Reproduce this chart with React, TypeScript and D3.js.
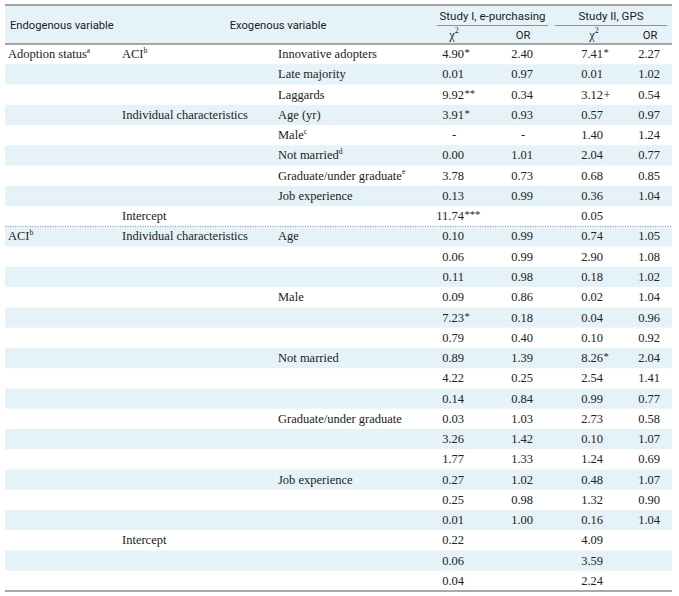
import React from "react";
import * as d3 from "d3";

const endoLabels: [number, string, string][] = [
  [0, "Adoption status", "a"],
  [9, "ACI", "b"],
];
const groupLabels: [number, string, string][] = [
  [0, "ACI", "b"],
  [3, "Individual characteristics", ""],
  [8, "Intercept", ""],
  [9, "Individual characteristics", ""],
  [24, "Intercept", ""],
];
const varLabels: [number, string, string][] = [
  [0, "Innovative adopters", ""],
  [1, "Late majority", ""],
  [2, "Laggards", ""],
  [3, "Age (yr)", ""],
  [4, "Male", "c"],
  [5, "Not married", "d"],
  [6, "Graduate/under graduate", "e"],
  [7, "Job experience", ""],
  [9, "Age", ""],
  [12, "Male", ""],
  [15, "Not married", ""],
  [18, "Graduate/under graduate", ""],
  [21, "Job experience", ""],
];
const chi1 = ["4.90*","0.01","9.92**","3.91*","-","0.00","3.78","0.13","11.74***","0.10","0.06","0.11","0.09","7.23*","0.79","0.89","4.22","0.14","0.03","3.26","1.77","0.27","0.25","0.01","0.22","0.06","0.04"];
const or1 = ["2.40","0.97","0.34","0.93","-","1.01","0.73","0.99","","0.99","0.99","0.98","0.86","0.18","0.40","1.39","0.25","0.84","1.03","1.42","1.33","1.02","0.98","1.00","","",""];
const chi2 = ["7.41*","0.01","3.12+","0.57","1.40","2.04","0.68","0.36","0.05","0.74","2.90","0.18","0.02","0.04","0.10","8.26*","2.54","0.99","2.73","0.10","1.24","0.48","1.32","0.16","4.09","3.59","2.24"];
const or2 = ["2.27","1.02","0.54","0.97","1.24","0.77","0.85","1.04","","1.05","1.08","1.02","1.04","0.96","0.92","2.04","1.41","0.77","0.58","1.07","0.69","1.07","0.90","1.04","","",""];
const studies = ["Study I, e-purchasing", "Study II, GPS"];
const statCols = ["χ", "OR", "χ", "OR"];

const W = 679, H = 596;
const L = 5, R = 672;
const SERIF = "'Liberation Serif', 'DejaVu Serif', serif";
const SANS = "Roboto, 'Noto Sans', sans-serif";
const BLUE = "#e5f3f8";
const TXT = "#222";

export default function App() {
  const nRows = chi1.length;
  const y = d3.scaleBand<number>().domain(d3.range(nRows)).range([44, 591]);
  const colX = d3.scaleOrdinal<string, number>().domain(["endo", "group", "var"]).range([8, 122, 278]);
  const numRight = d3.scaleOrdinal<number, number>().domain([0, 1, 2, 3]).range([464, 533, 603, 660]);
  const numCenter = d3.scaleOrdinal<number, number>().domain([0, 1, 2, 3]).range([454, 523, 594, 650]);
  const studySpan = [[437, 548], [555, 667]];
  const cols = [chi1, or1, chi2, or2];
  const fs = 12.5;

  const renderVal = (v: string, ci: number, ri: number) => {
    if (!v) return null;
    const cy = (y(ri) as number) + y.bandwidth() / 2;
    if (v === "-") {
      return <text key={`${ci}-${ri}`} x={numCenter(ci)} y={cy} textAnchor="middle" dominantBaseline="central" fontFamily={SERIF} fontSize={fs} fill={TXT}>-</text>;
    }
    const m = v.match(/^([0-9.]+)(.*)$/)!;
    return (
      <g key={`${ci}-${ri}`}>
        <text x={numRight(ci)} y={cy} textAnchor="end" dominantBaseline="central" fontFamily={SERIF} fontSize={fs} fill={TXT}>{m[1]}</text>
        {m[2] && <text x={numRight(ci) + 0.5} y={cy} textAnchor="start" dominantBaseline="central" fontFamily={SERIF} fontSize={m[2] === "+" ? fs : 10.5} fill={TXT} dy={m[2] === "+" ? 0 : -1.5}>{m[2]}</text>}
      </g>
    );
  };

  const label = (key: string, x: number, ri: number, t: string, sup: string) => {
    const cy = (y(ri) as number) + y.bandwidth() / 2;
    return (
      <text key={key} x={x} y={cy} dominantBaseline="central" fontFamily={SERIF} fontSize={fs} fill={TXT}>
        {t}
        {sup && <tspan fontSize={7.5} dy={-4.5}>{sup}</tspan>}
      </text>
    );
  };

  return (
    <svg width={W} height={H} style={{ position: "absolute", left: 0, top: 0, background: "#fff" }}>
      <rect x={L} y={5} width={R - L} height={39} fill={BLUE} />
      {d3.range(nRows).filter((i) => i % 2 === 1).map((i) => (
        <rect key={i} x={L} y={y(i)} width={R - L} height={y.bandwidth()} fill={BLUE} />
      ))}
      <line x1={L} x2={R} y1={5} y2={5} stroke="#555" strokeWidth={1.2} />
      <line x1={L} x2={R} y1={44} y2={44} stroke="#555" strokeWidth={1.2} />
      <line x1={L} x2={R} y1={591} y2={591} stroke="#555" strokeWidth={1.2} />
      <line x1={L} x2={R} y1={y(9)} y2={y(9)} stroke="#888" strokeWidth={1} strokeDasharray="1,1.5" />
      {studySpan.map((s, i) => (
        <line key={i} x1={s[0]} x2={s[1]} y1={25.5} y2={25.5} stroke="#777" strokeWidth={0.8} />
      ))}
      <text x={10} y={25} dominantBaseline="central" fontFamily={SANS} fontSize={11.2} fill="#1a1a1a">Endogenous variable</text>
      <text x={278} y={25} textAnchor="middle" dominantBaseline="central" fontFamily={SANS} fontSize={11.2} fill="#1a1a1a">Exogenous variable</text>
      {studies.map((s, i) => (
        <text key={s} x={(studySpan[i][0] + studySpan[i][1]) / 2} y={16} textAnchor="middle" dominantBaseline="central" fontFamily={SANS} fontSize={11.5} fill="#1a1a1a">{s}</text>
      ))}
      {statCols.map((s, i) => (
        <text key={i} x={numCenter(i)} y={35} textAnchor="middle" dominantBaseline="central" fontFamily={s === "χ" ? SERIF : SANS} fontSize={s === "χ" ? 12.5 : 11.2} fill="#1a1a1a">
          {s}
          {s === "χ" && <tspan fontSize={8} dy={-5}>2</tspan>}
        </text>
      ))}
      {endoLabels.map(([r, t, s]) => label(`e${r}`, colX("endo"), r, t, s))}
      {groupLabels.map(([r, t, s]) => label(`g${r}`, colX("group"), r, t, s))}
      {varLabels.map(([r, t, s]) => label(`v${r}`, colX("var"), r, t, s))}
      {cols.map((c, ci) => c.map((v, ri) => renderVal(v, ci, ri)))}
    </svg>
  );
}
